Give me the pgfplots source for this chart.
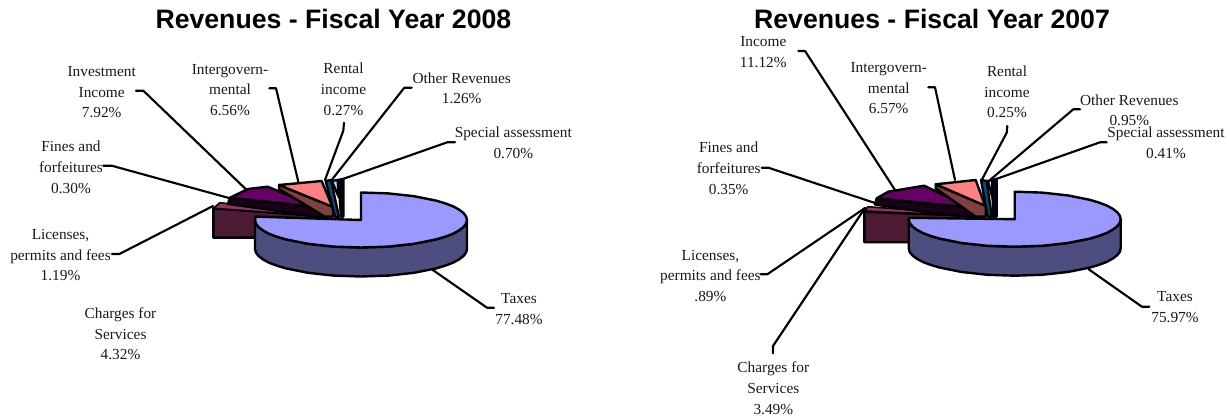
\documentclass[border=0pt]{standalone}
\usepackage{fontspec}
\setmainfont{Liberation Serif}
\newfontfamily\ttlfont{Liberation Sans}
\usepackage{pgfplots}
\pgfplotsset{compat=1.18}
\newcommand{\lab}[3]{\node[inner sep=0pt,anchor=center,yshift=-2.3pt,font=\fontsize{11.5}{13}\selectfont,text=black!90] at (axis cs:#1,#2) {\strut #3};}
\newcommand{\ttl}[3]{\node[inner sep=0pt,anchor=center,font=\ttlfont\bfseries\fontsize{20}{22}\selectfont] at (axis cs:#1,#2) {#3};}
\definecolor{taxtop}{HTML}{9999FF}
\definecolor{taxside}{HTML}{4D4D80}
\definecolor{chgtop}{HTML}{993366}
\definecolor{chgside}{HTML}{4D1A33}
\definecolor{invtop}{HTML}{660066}
\definecolor{invside}{HTML}{1A001A}
\definecolor{govtop}{HTML}{FF8080}
\definecolor{govside}{HTML}{804040}
\definecolor{rent}{HTML}{00507F}
\definecolor{oth}{HTML}{CCCCFF}
\definecolor{spec}{HTML}{000033}
\begin{document}
\begin{tikzpicture}
\begin{axis}[width=922.5pt,height=312.75pt,scale only axis,hide axis,clip=false,
  xmin=0,xmax=1230,ymin=0,ymax=417,y dir=reverse,
  every axis plot/.append style={line join=round,line cap=round,line width=1.8pt,draw=black,mark=none}]
\path (axis cs:0,0) rectangle (axis cs:1230,417);
% leaders left
\addplot[line width=1.6pt] coordinates {(136,90.7)(143.3,90.7)(246.7,190)};
\addplot[line width=1.6pt] coordinates {(269.3,88.3)(276,88.3)(298.3,181.7)};
\addplot[line width=1.6pt] coordinates {(103.3,165.7)(111.7,165.7)(230,198.3)};
\addplot[line width=1.6pt] coordinates {(344,122.7)(343.3,130.7)(325,180)};
\addplot[line width=1.6pt] coordinates {(411.7,87.7)(404.3,87.7)(331.7,180)};
\addplot[line width=1.6pt] coordinates {(455,142.3)(447.3,142.3)(340,180)};
\addplot[line width=1.6pt] coordinates {(111.9,254)(119.4,254)(213,206)};
\addplot[line width=1.6pt] coordinates {(494,307.7)(487,307.7)(432.8,270)};
% leaders right
\addplot[line width=1.6pt] coordinates {(798.3,51)(805,51)(895,190)};
\addplot[line width=1.6pt] coordinates {(928.3,87.3)(935,87.3)(955,180)};
\addplot[line width=1.6pt] coordinates {(761.7,167.7)(768.3,167.7)(875,203)};
\addplot[line width=1.6pt] coordinates {(1007.3,126)(1006.7,132.7)(981.7,180)};
\addplot[line width=1.6pt] coordinates {(1080,109.3)(1073.3,109.3)(990,180)};
\addplot[line width=1.6pt] coordinates {(1106.7,142.3)(1100,142.3)(993.3,180)};
\addplot[line width=1.6pt] coordinates {(760.6,274.3)(767.3,274.3)(865,208)};
\addplot[line width=1.6pt] coordinates {(773,353.3)(773,346)(865,208)};
\addplot[line width=1.6pt] coordinates {(1149.4,306.7)(1141.9,306.7)(1088.7,269.3)};
% left pie small slices
\addplot[fill=chgside] coordinates {(213.3,208.3)(213.3,237.7)(320,237.7)(320,216)} --cycle;
\addplot[fill=chgtop,line width=1.2pt] coordinates {(213.3,208.3)(220,202.7)(283,210)(320,216)} --cycle;
\addplot[fill=invside] coordinates {(230,197.7)(228,204)(283,211.5)(322,218)(325,208)(315,206.7)} --cycle;
\addplot[fill=invtop] coordinates {(230,197.7)(248,189)(267.7,186.7)(315,206.7)} --cycle;
\addplot[fill=invside,line width=1pt] coordinates {(321.7,209.5)(325,209.5)(325,217)(321.7,217)} --cycle;
\addplot[fill=govside] coordinates {(279,185)(279,189)(325,216.7)(333,216.7)(333,206.7)} --cycle;
\addplot[fill=govtop] coordinates {(279,185)(321.7,181)(332.3,206.7)} --cycle;
\addplot[fill=rent] coordinates {(325.7,181)(331,180)(339,217)(335,217)} --cycle;
\addplot[fill=oth] coordinates {(331.7,181)(337.7,180)(338.8,197)} --cycle;
\addplot[fill=spec] coordinates {(338.3,180)(343.3,179)(343.3,216.7)(341,216.7)} --cycle;
% left pie taxes
\addplot[fill=taxside] coordinates {(467,220)(466.1,223.6)(463.4,227.1)(458.9,230.5)(452.8,233.8)(445.1,236.7)(436,239.4)(414,243.8)(388.4,246.6)(361,247.5)(333.6,246.6)(308,243.8)(286,239.4)(276.9,236.7)(269.2,233.8)(263.1,230.5)(258.6,227.1)(255.9,223.6)(255,220)
 (255,249)(255.9,252.6)(258.6,256.1)(263.1,259.5)(269.2,262.8)(276.9,265.7)(286,268.4)(308,272.8)(333.6,275.6)(361,276.5)(388.4,275.6)(414,272.8)(436,268.4)(445.1,265.7)(452.8,262.8)(458.9,259.5)(463.4,256.1)(466.1,252.6)(467,249)} --cycle;
\addplot[fill=taxtop] coordinates {(361,220)(361,192.5)(388.4,193.4)(414,196.2)(436,200.6)(445.1,203.3)(452.8,206.2)(458.9,209.5)(463.4,212.9)(466.1,216.4)(467,220)(466.1,223.6)(463.4,227.1)(458.9,230.5)(452.8,233.8)(445.1,236.7)(436,239.4)(414,243.8)(388.4,246.6)(361,247.5)(333.6,246.6)(308,243.8)(286,239.4)(276.9,236.7)(269.2,233.8)(263.1,230.5)(258.6,227.1)(255.9,223.6)(255,220)(255.8,216.6)} --cycle;
% right pie small slices
\addplot[fill=chgside] coordinates {(864.3,211.7)(864.3,242.3)(975,242.3)(975,216)} --cycle;
\addplot[fill=chgtop,line width=1.2pt] coordinates {(865,211)(867.7,206.7)(925,211)(975,216)} --cycle;
\addplot[fill=invside] coordinates {(876.7,198.3)(875,204.5)(925,212)(973,217)(978,208)(968.3,207.3)} --cycle;
\addplot[fill=invtop] coordinates {(876.7,198.3)(888.3,191.7)(924.3,185.7)(968.3,207.3)} --cycle;
\addplot[fill=invside,line width=1pt] coordinates {(972,210)(976,210)(976,217)(972,217)} --cycle;
\addplot[fill=govside] coordinates {(935.7,184.3)(935.7,188.3)(975.7,216.7)(985.7,216.7)(985.7,205.7)} --cycle;
\addplot[fill=govtop] coordinates {(935.7,184.3)(975.7,180)(985,205.7)} --cycle;
\addplot[fill=rent] coordinates {(981,180)(986.7,181)(991.7,216.7)(987.7,216.7)} --cycle;
\addplot[fill=oth] coordinates {(987.7,181)(992.3,180)(992.3,197)} --cycle;
\addplot[fill=spec] coordinates {(992.3,180)(996.7,179)(996.7,216.7)(993,216.7)} --cycle;
% right pie taxes
\addplot[fill=taxside] coordinates {(1120.7,219.2)(1119.8,222.8)(1117.1,226.3)(1112.6,229.7)(1106.5,233)(1098.8,235.9)(1089.7,238.6)(1067.7,243)(1042.1,245.8)(1014.7,246.7)(987.3,245.8)(961.7,243)(939.7,238.6)(930.6,235.9)(922.9,233)(916.8,229.7)(912.3,226.3)(909.6,222.8)(908.7,219.2)
 (908.7,248.2)(909.6,251.8)(912.3,255.3)(916.8,258.7)(922.9,262)(930.6,264.9)(939.7,267.6)(961.7,272)(987.3,274.8)(1014.7,275.7)(1042.1,274.8)(1067.7,272)(1089.7,267.6)(1098.8,264.9)(1106.5,262)(1112.6,258.7)(1117.1,255.3)(1119.8,251.8)(1120.7,248.2)} --cycle;
\addplot[fill=taxtop] coordinates {(1014.7,219.2)(1014.7,191.7)(1042.1,192.6)(1067.7,195.4)(1089.7,199.8)(1098.8,202.5)(1106.5,205.4)(1112.6,208.7)(1117.1,212.1)(1119.8,215.6)(1120.7,219.2)(1119.8,222.8)(1117.1,226.3)(1112.6,229.7)(1106.5,233)(1098.8,235.9)(1089.7,238.6)(1067.7,243)(1042.1,245.8)(1014.7,246.7)(987.3,245.8)(961.7,243)(939.7,238.6)(930.6,235.9)(922.9,233)(916.8,229.7)(912.3,226.3)(909.6,222.8)(908.7,219.2)(908.8,217.8)} --cycle;
% titles
\ttl{333.4}{18.5}{Revenues - Fiscal Year 2008}
\ttl{932}{18.5}{Revenues - Fiscal Year 2007}
% left labels
\lab{101.7}{70}{Investment}\lab{101.7}{91}{Income}\lab{101.7}{111}{7.92\%}
\lab{230}{68}{Intergovern-}\lab{230}{88}{mental}\lab{230}{109}{6.56\%}
\lab{71}{145}{Fines and}\lab{71}{166}{forfeitures}\lab{71}{187}{0.30\%}
\lab{343.5}{67}{Rental}\lab{343.5}{88}{income}\lab{343.5}{109}{0.27\%}
\lab{461.7}{77}{Other Revenues}\lab{461.7}{97}{1.26\%}
\lab{513.3}{131}{Special assessment}\lab{513.3}{152}{0.70\%}
\lab{60.5}{233}{Licenses,}\lab{60.5}{254}{permits and fees}\lab{60.5}{274}{1.19\%}
\lab{120.5}{311.7}{Charges for}\lab{120.5}{332.7}{Services}\lab{120.5}{353}{4.32\%}
\lab{519}{297}{Taxes}\lab{519}{318}{77.48\%}
% right labels
\lab{763.3}{40}{Income}\lab{763.3}{61}{11.12\%}
\lab{888.7}{66}{Intergovern-}\lab{888.7}{87}{mental}\lab{888.7}{107}{6.57\%}
\lab{728.7}{146}{Fines and}\lab{728.7}{167}{forfeitures}\lab{728.7}{188}{0.35\%}
\lab{1007}{70}{Rental}\lab{1007}{91}{income}\lab{1007}{111}{0.25\%}
\lab{1129.3}{99}{Other Revenues}\lab{1129.3}{119}{0.95\%}
\lab{1166}{131}{Special assessment}\lab{1166}{152}{0.41\%}
\lab{710.4}{254.3}{Licenses,}\lab{710.4}{274.3}{permits and fees}\lab{710.4}{295}{.89\%}
\lab{773.3}{366}{Charges for}\lab{773.3}{387}{Services}\lab{773.3}{408}{3.49\%}
\lab{1175}{295}{Taxes}\lab{1175}{316}{75.97\%}
\end{axis}
\end{tikzpicture}
\end{document}
